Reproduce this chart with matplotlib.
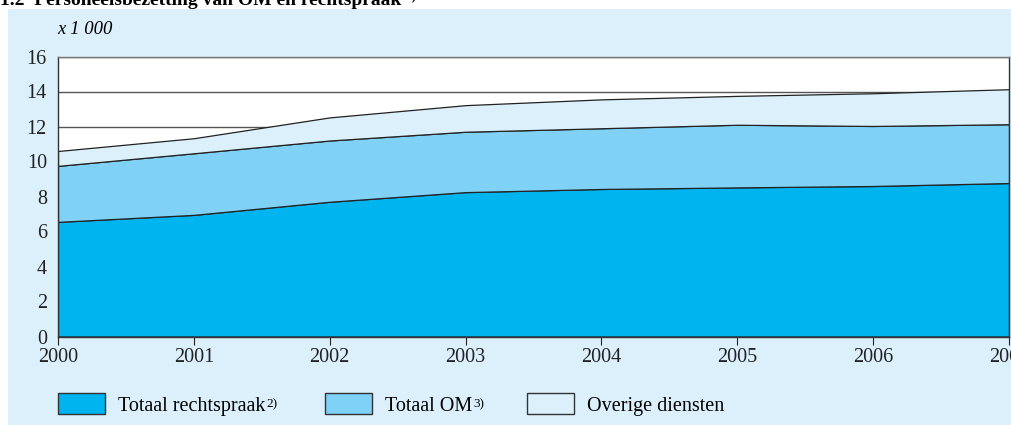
import matplotlib.pyplot as plt
from matplotlib.patches import Rectangle

jaren = [2000, 2001, 2002, 2003, 2004, 2005, 2006, 2007]
rechtspraak = [6.55, 6.95, 7.70, 8.25, 8.43, 8.52, 8.60, 8.77]
om = [3.20, 3.52, 3.50, 3.45, 3.47, 3.58, 3.43, 3.36]
overige = [0.85, 0.86, 1.32, 1.52, 1.65, 1.65, 1.87, 2.00]
yticks = [0, 2, 4, 6, 8, 10, 12, 14, 16]

labels = ['Totaal rechtspraak', 'Totaal OM', 'Overige diensten']
voetnoten = ['2)', '3)', '']
kleuren = ['#00b5ef', '#7fd2f6', '#dbf0fb']
achtergrond = '#dbf0fb'

plt.rcParams['font.family'] = ['Liberation Serif', 'DejaVu Serif']

fig = plt.figure(figsize=(10.11, 4.25), dpi=100)
fig.patch.set_facecolor('white')
# lichtblauw kader
fig.add_artist(Rectangle((8 / 1011, 0), 1, 1 - 9 / 425, transform=fig.transFigure,
                         facecolor=achtergrond, edgecolor='none', zorder=0))
titel = fig.text(0.0, 1 - 5 / 425, '1.2  Personeelsbezetting van OM en rechtspraak',
                 fontsize=14, fontweight='bold', va='baseline', ha='left')

ax = fig.add_axes([58 / 1011, 88.5 / 425, 951 / 1011, 280 / 425])
ax.set_facecolor('white')
ax.stackplot(jaren, rechtspraak, om, overige, colors=kleuren,
             edgecolor='#222222', linewidth=0.9, zorder=2)

ax.set_xlim(2000, 2007)
ax.set_ylim(0, 16)
ax.set_yticks(yticks)
ax.set_xticks(jaren)
ax.grid(axis='y', color='#555555', linewidth=1.0, zorder=1)
ax.set_axisbelow(True)
ax.tick_params(axis='y', length=0, labelsize=14.5, pad=8, colors='#222222')
ax.tick_params(axis='x', length=6, width=0.8, direction='out', labelsize=14.5,
               pad=2, colors='#222222')
for s in ['left', 'right', 'bottom']:
    ax.spines[s].set_color('#333333')
    ax.spines[s].set_linewidth(1.0)
ax.spines['top'].set_color('#777777')
ax.spines['top'].set_linewidth(1.0)

fig.text(57 / 1011, 1 - 30 / 425, 'x 1 000', fontsize=13.5, style='italic',
         va='center', ha='left')

# legenda
posities = [58, 325, 527]
for x0, lab, noot, kl in zip(posities, labels, voetnoten, kleuren):
    fig.add_artist(Rectangle((x0 / 1011, 1 - 414 / 425), 47 / 1011, 21 / 425,
                             transform=fig.transFigure, facecolor=kl,
                             edgecolor='#333333', linewidth=1.0))
    t = fig.text((x0 + 60) / 1011, 1 - 411 / 425, lab, fontsize=14.5,
                 va='baseline', ha='left')
    if noot:
        ax.annotate(noot, xy=(1, 0), xycoords=t, xytext=(0.5, 6.5),
                    textcoords='offset points', fontsize=9.5, va='baseline',
                    ha='left', annotation_clip=False)
ax.annotate('1)', xy=(1, 0), xycoords=titel, xytext=(3, 6.5),
            textcoords='offset points', fontsize=9.5, fontweight='bold',
            va='baseline', ha='left', annotation_clip=False)

fig.savefig('out.png', dpi=100, facecolor=fig.get_facecolor())
